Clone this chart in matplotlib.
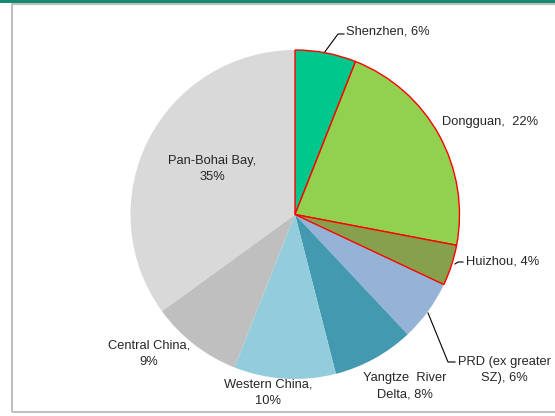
import numpy as np
import matplotlib.pyplot as plt
from matplotlib.patches import Rectangle

# Share of sales by region
regions = ["Shenzhen", "Dongguan", "Huizhou", "PRD (ex greater SZ)", "Yangtze River Delta",
           "Western China", "Central China", "Pan-Bohai Bay"]
shares = [6, 22, 4, 6, 8, 10, 9, 35]
label_text = ["Shenzhen, 6%", "Dongguan,  22%", "Huizhou, 4%", "PRD (ex greater\nSZ), 6%",
              "Yangtze  River\nDelta, 8%", "Western China,\n10%", "Central China,\n9%",
              "Pan-Bohai Bay,\n35%"]
colors = ["#00C78B", "#92D050", "#87A04C", "#95B3D7", "#4399B0", "#93CDDD", "#BFBFBF", "#D9D9D9"]
edge_colors = ["#FF0000", "#FF0000", "#FF0000", "none", "none", "none", "none", "none"]

W, H = 555, 416
fig = plt.figure(figsize=(W / 100, H / 100), dpi=100)

# frame and top band
fig.patches.append(Rectangle((12 / W, 4 / H), 1.0, (H - 8) / H, transform=fig.transFigure,
                             fill=False, edgecolor="#BFBFBF", linewidth=1.5))
fig.patches.append(Rectangle((0, (H - 3) / H), 1.0, 3 / H, transform=fig.transFigure,
                             color="#178A72", linewidth=0))

cx, cy, r = 295, 214.5, 164.5
ax = fig.add_axes([(cx - r) / W, (H - cy - r) / H, 2 * r / W, 2 * r / H])

wedges, _ = ax.pie(shares, colors=colors, startangle=90, counterclock=False, radius=1,
                   wedgeprops=dict(linewidth=0))
for w, ec in zip(wedges, edge_colors):
    if ec != "none":
        w.set_edgecolor(ec)
        w.set_linewidth(1.0)
        w.set_zorder(3)
ax.set_xlim(-1, 1)
ax.set_ylim(-1, 1)
ax.axis("off")


def to_ax(px, py):
    # pixel position in the figure -> pie data coordinates
    return (px - cx) / r, (cy - py) / r


font = dict(family="Liberation Sans", fontsize=9.3, color="#262626", linespacing=1.55)

# label placement in pixels: (x, y, ha)
label_pos = [(346, 32, "left"), (442, 122, "left"), (466, 262, "left"), (504, 370, "center"),
             (405, 386, "center"), (268, 393, "center"), (149, 354, "center"), (212, 169, "center")]
for txt, (px, py, ha) in zip(label_text, label_pos):
    x, y = to_ax(px, py)
    ax.text(x, y, txt, ha=ha, va="center", clip_on=False, **font)

# leader lines
leaders = [[(324, 53), (338, 34), (344, 34)],
           [(455, 264), (458, 262), (463, 262)],
           [(428, 313), (448, 362), (455, 362)]]
for pts in leaders:
    xy = np.array([to_ax(*p) for p in pts])
    ax.plot(xy[:, 0], xy[:, 1], color="black", linewidth=0.8, clip_on=False)

fig.savefig("out.png", dpi=100)
